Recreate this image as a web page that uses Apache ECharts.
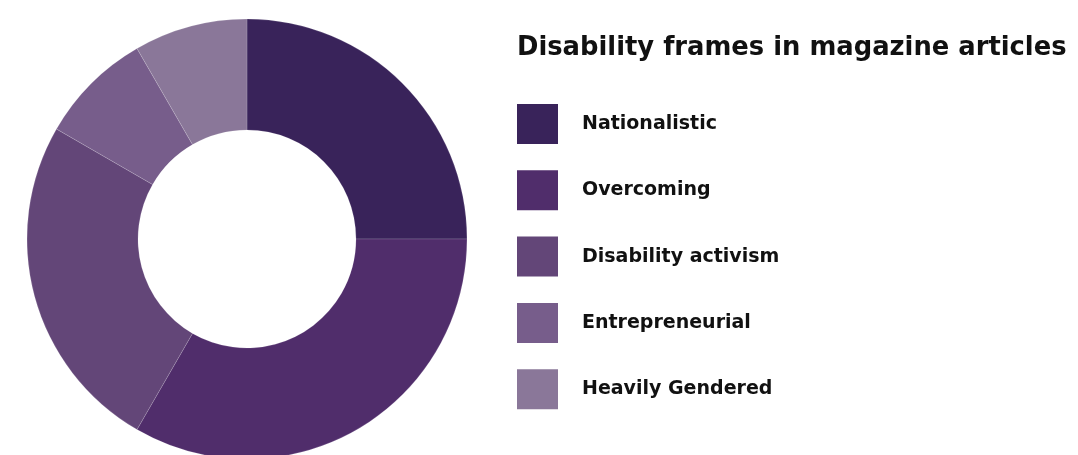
<!DOCTYPE html>
<html>
<head>
<meta charset="utf-8">
<script src="https://cdn.jsdelivr.net/npm/echarts@6/dist/echarts.min.js"></script>
<style>
  html, body { margin: 0; padding: 0; background: #fff; }
  #chart { width: 1078px; height: 455px; }
</style>
</head>
<body>
<div id="chart"></div>
<script>
// Number of magazine articles per disability frame
const frames = ['Nationalistic', 'Overcoming', 'Disability activism', 'Entrepreneurial', 'Heavily Gendered'];
const articleCounts = [3, 4, 3, 1, 1];
const frameColors = ['#39235a', '#502d6b', '#634678', '#775d8b', '#8a7799'];

const chart = echarts.init(document.getElementById('chart'), null, { renderer: 'canvas' });

const fontFamily = '"DejaVu Sans", sans-serif';

chart.setOption({
  animation: false,
  backgroundColor: '#ffffff',
  title: {
    text: 'Disability frames in magazine articles',
    left: 512,
    top: 30,
    textStyle: { fontFamily, fontSize: 25.8, fontWeight: 'bold', color: '#111111' }
  },
  legend: {
    orient: 'vertical',
    left: 517,
    top: 104,
    padding: 0,
    icon: 'rect',
    itemWidth: 41,
    itemHeight: 40,
    itemGap: 26.3,
    selectedMode: false,
    data: frames,
    itemStyle: { borderWidth: 0 },
    textStyle: {
      fontFamily,
      fontSize: 19,
      lineHeight: 20,
      fontWeight: 'bold',
      color: '#111111',
      padding: [0, 0, 0, 19]
    }
  },
  series: [{
    type: 'pie',
    center: [247, 239],
    radius: [109, 220],
    startAngle: 90,
    clockwise: true,
    label: { show: false },
    labelLine: { show: false },
    emphasis: { disabled: true },
    itemStyle: { borderColor: 'rgba(255,255,255,0.25)', borderWidth: 0.6 },
    data: frames.map((name, i) => ({
      name,
      value: articleCounts[i],
      itemStyle: { color: frameColors[i] }
    }))
  }]
});
</script>
</body>
</html>
